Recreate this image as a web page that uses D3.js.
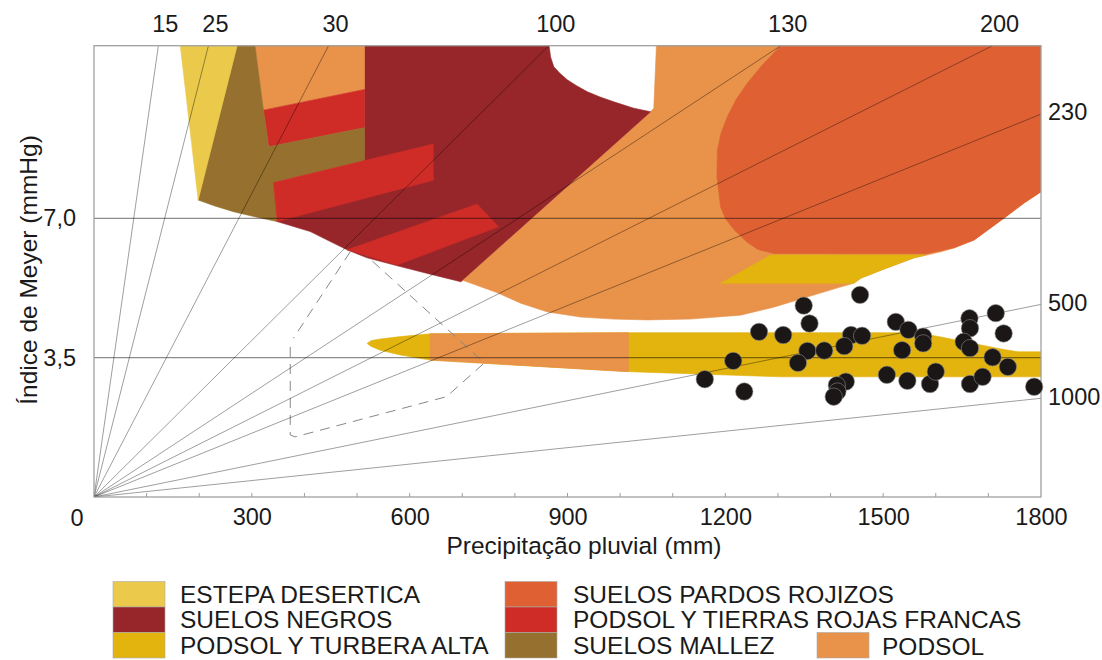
<!DOCTYPE html>
<html>
<head>
<meta charset="utf-8">
<script src="https://cdn.jsdelivr.net/npm/d3@7"></script>
<style>
  body { margin: 0; background: #fff; }
  text { font-family: "Liberation Sans", Arial, sans-serif; fill: #1a1a1a; }
</style>
</head>
<body>
<svg id="chart" width="1102" height="660"></svg>
<script>
// ---- data (precipitation mm, Meyer index mmHg) ----
const xTicks = [300, 600, 900, 1200, 1500, 1800];
const yTicks = [3.5, 7.0];
const yMax = 11.34;

// quotient lines: label and precipitation per index unit
const fanLabels = ['15', '25', '30', '100', '130', '200', '230', '500', '1000'];
const fanRatio = [10.79, 19.18, 39.32, 76.24, 115.1, 150.6, 187.1, 371.9, 725.8];

// soil zones, outlines in data units
const podsol = [[1069, 11.34], [1800, 11.34], [1800, 7.67], [1768, 7.39], [1730, 7.01], [1673, 6.46], [1635, 6.26],
  [1610, 6.16], [1559, 6.01], [1496, 5.70], [1458, 5.50], [1444, 5.37], [1420, 5.28], [1357, 5.03], [1292, 4.77],
  [1229, 4.57], [1134, 4.47], [1052, 4.45], [988, 4.47], [925, 4.52], [862, 4.65], [811, 4.87], [767, 5.13],
  [702, 5.44], [697, 5.41], [1058, 9.68], [1064, 9.77]];
const podsolTop = [[306, 11.34], [514, 11.34], [514, 10.24], [322, 9.72]];
const pardosRojizos = [[1305, 11.34], [1800, 11.34], [1800, 7.67], [1768, 7.39], [1730, 7.01], [1673, 6.46],
  [1635, 6.26], [1581, 6.11], [1292, 6.12], [1262, 6.22], [1240, 6.42], [1217, 6.71], [1200, 7.00], [1191, 7.29],
  [1184, 8.05], [1185, 8.72], [1192, 9.15], [1204, 9.56], [1221, 10.00], [1242, 10.40], [1270, 10.85]];
const turberaPatch = [[1191, 5.37], [1286, 6.08], [1581, 6.08], [1559, 6.01], [1496, 5.70], [1458, 5.50], [1444, 5.37]];
const suelosNegros = [[514, 11.34], [865, 11.34], [868, 11.05], [874, 10.81], [886, 10.64], [900, 10.48],
  [918, 10.33], [938, 10.18], [962, 10.05], [988, 9.93], [1026, 9.77], [1058, 9.68], [697, 5.41], [645, 5.58],
  [582, 5.79], [519, 6.01], [481, 6.21], [455, 6.38], [411, 6.67], [348, 6.92], [514, 8.45]];
const rojasStrip1 = [[322, 9.72], [514, 10.24], [514, 9.28], [332, 8.80]];
const rojasStrip2 = [[341, 7.90], [645, 8.87], [645, 7.96], [348, 6.92]];
const rojasStrip3 = [[481, 6.21], [728, 7.36], [769, 6.79], [576, 5.83]];
const suelosMallez = [[272, 11.34], [306, 11.34], [322, 9.72], [332, 8.80], [514, 9.28], [514, 8.45], [341, 7.90],
  [348, 6.92], [306, 7.04], [265, 7.17], [230, 7.31], [198, 7.46]];
const estepa = [[164, 11.34], [272, 11.34], [198, 7.46]];
const turberaBand = [[519, 3.86], [527, 3.93], [544, 3.97], [582, 4.03], [639, 4.10], [1016, 4.13], [1566, 4.13],
  [1610, 4.02], [1667, 3.87], [1724, 3.72], [1756, 3.65], [1800, 3.65], [1800, 3.02], [1305, 3.02], [1016, 3.15],
  [639, 3.44], [582, 3.57], [544, 3.69], [527, 3.78]];
const podsolBand = [[639, 4.10], [1016, 4.13], [1016, 3.15], [639, 3.44]];
const dashedA = [[487, 6.16], [379, 3.99]];
const dashedB = [[373, 3.77], [373, 1.56], [382, 1.51], [670, 2.52], [742, 3.37], [518, 6.06]];

// observed stations
const stationPrecip = [1161, 1215, 1236, 1264, 1310, 1349, 1360, 1356, 1338, 1388, 1456, 1439, 1460, 1426, 1429,
  1412, 1413, 1406, 1524, 1548, 1536, 1507, 1546, 1576, 1576, 1589, 1600, 1664, 1665, 1653, 1665, 1665, 1689,
  1714, 1729, 1708, 1737, 1787];
const stationIndex = [2.96, 3.42, 2.65, 4.15, 4.07, 4.81, 4.36, 3.67, 3.37, 3.68, 5.08, 4.07, 4.05, 3.79, 2.90,
  2.81, 2.65, 2.52, 4.40, 4.20, 3.69, 3.07, 2.92, 4.03, 3.86, 2.84, 3.15, 4.49, 4.24, 3.90, 3.74, 2.84, 3.02,
  4.62, 4.11, 3.51, 3.27, 2.77];

const legendNames = ['ESTEPA DESERTICA', 'SUELOS NEGROS', 'PODSOL Y TURBERA ALTA',
  'SUELOS PARDOS ROJIZOS', 'PODSOL Y TIERRAS ROJAS FRANCAS', 'SUELOS MALLEZ', 'PODSOL'];

// ---- styles ----
const colors = {
  estepa: '#EBC94B', negros: '#97262A', turbera: '#E3B30E', rojizos: '#DF6133',
  rojas: '#CF2C27', mallez: '#96702E', podsol: '#E8924A'
};
const legendColors = [colors.estepa, colors.negros, colors.turbera, colors.rojizos, colors.rojas, colors.mallez, colors.podsol];
const numSize = '23.5px', textSize = '24.5px';

const svg = d3.select('#chart');
const mLeft = 94, mRight = 1041, mTop = 45.7, mBottom = 497;

const x = d3.scaleLinear().domain([0, 1800]).range([mLeft, mRight]);
const y = d3.scaleLinear().domain([0, yMax]).range([mBottom, mTop]);

svg.append('clipPath').attr('id', 'plot')
  .append('rect').attr('x', mLeft).attr('y', mTop).attr('width', mRight - mLeft).attr('height', mBottom - mTop);

const plot = svg.append('g').attr('clip-path', 'url(#plot)');
const area = d3.line().x(d => x(d[0])).y(d => y(d[1])).curve(d3.curveLinearClosed);
const path = d3.line().x(d => x(d[0])).y(d => y(d[1]));

// fills, back to front
const zones = [
  [podsol, colors.podsol], [pardosRojizos, colors.rojizos], [turberaPatch, colors.turbera],
  [suelosNegros, colors.negros], [podsolTop, colors.podsol], [rojasStrip1, colors.rojas],
  [suelosMallez, colors.mallez], [rojasStrip2, colors.rojas], [rojasStrip3, colors.rojas],
  [estepa, colors.estepa], [turberaBand, colors.turbera], [podsolBand, colors.podsol]
];
plot.selectAll('path.zone')
  .data(zones)
  .enter()
  .append('path')
  .attr('class', 'zone')
  .attr('d', d => area(d[0]))
  .attr('fill', d => d[1])
  .attr('stroke', d => d[1])
  .attr('stroke-width', 0.6);

plot.selectAll('path.dash')
  .data([dashedA, dashedB])
  .enter()
  .append('path')
  .attr('d', d => path(d))
  .attr('fill', 'none')
  .attr('stroke', '#888')
  .attr('stroke-width', 1)
  .attr('stroke-dasharray', '10,7');

// reference lines at 3,5 and 7,0
plot.selectAll('line.grid')
  .data(yTicks)
  .enter()
  .append('line')
  .attr('x1', mLeft).attr('x2', mRight)
  .attr('y1', d => y(d)).attr('y2', d => y(d))
  .attr('stroke', '#000').attr('stroke-opacity', 0.45).attr('stroke-width', 1.2);

// quotient fan from the origin
const fanEnd = r => (r * yMax <= 1800) ? [r * yMax, yMax] : [1800, 1800 / r];
plot.selectAll('line.fan')
  .data(fanRatio)
  .enter()
  .append('line')
  .attr('x1', x(0)).attr('y1', y(0))
  .attr('x2', r => x(fanEnd(r)[0])).attr('y2', r => y(fanEnd(r)[1]))
  .attr('stroke', '#000').attr('stroke-opacity', 0.55).attr('stroke-width', 0.7);

svg.selectAll('text.fan')
  .data(fanRatio)
  .enter()
  .append('text')
  .attr('x', r => fanEnd(r)[1] >= yMax ? x(fanEnd(r)[0]) + 7 : mRight + 7)
  .attr('y', r => fanEnd(r)[1] >= yMax ? 24 : y(fanEnd(r)[1]) - 2)
  .attr('dy', '0.35em')
  .attr('text-anchor', r => fanEnd(r)[1] >= yMax ? 'middle' : 'start')
  .style('font-size', numSize)
  .text((r, i) => fanLabels[i]);

// frame
svg.append('rect')
  .attr('x', mLeft).attr('y', mTop).attr('width', mRight - mLeft).attr('height', mBottom - mTop)
  .attr('fill', 'none').attr('stroke', '#a0a0a0').attr('stroke-width', 1.3);

svg.selectAll('line.minor')
  .data(d3.range(100, 1800, 100))
  .enter()
  .append('line')
  .attr('x1', d => x(d)).attr('x2', d => x(d))
  .attr('y1', mBottom).attr('y2', mBottom - 4)
  .attr('stroke', '#a0a0a0').attr('stroke-width', 1);

// axes
const xAxis = svg.append('g')
  .attr('transform', `translate(0, ${mBottom})`)
  .call(d3.axisBottom(x).tickValues(xTicks).tickSize(0).tickPadding(11).tickFormat(d3.format('d')));
xAxis.select('.domain').remove();
xAxis.selectAll('text').style('font-size', numSize).style('fill', '#1a1a1a');

const yAxis = svg.append('g')
  .attr('transform', `translate(${mLeft}, 0)`)
  .call(d3.axisLeft(y).tickValues(yTicks).tickSize(0).tickPadding(18)
    .tickFormat(d => d3.format('.1f')(d).replace('.', ',')));
yAxis.select('.domain').remove();
yAxis.selectAll('text').style('font-size', numSize).style('fill', '#1a1a1a');

svg.append('text')
  .attr('x', mLeft - 17).attr('y', mBottom + 21).attr('dy', '0.35em')
  .attr('text-anchor', 'middle').style('font-size', numSize).text('0');

svg.append('text')
  .attr('x', 584).attr('y', 545).attr('dy', '0.35em')
  .attr('text-anchor', 'middle').style('font-size', textSize)
  .text('Precipitação pluvial (mm)');

svg.append('text')
  .attr('transform', 'translate(28, 270) rotate(-90)')
  .attr('dy', '0.35em')
  .attr('text-anchor', 'middle').style('font-size', textSize)
  .text('Índice de Meyer (mmHg)');

// stations
svg.selectAll('circle')
  .data(stationPrecip)
  .enter()
  .append('circle')
  .attr('cx', d => x(d))
  .attr('cy', (d, i) => y(stationIndex[i]))
  .attr('r', 8.7)
  .attr('fill', '#1a1716')
  .attr('stroke', '#8a8a8a')
  .attr('stroke-width', 0.6);

// legend
const legend = svg.append('g');
const swX = [113, 505, 817], txX = [180, 573, 882];
legendNames.forEach((name, i) => {
  const col = i < 6 ? Math.floor(i / 3) : 2;
  const row = i < 6 ? i % 3 : 2;
  const sy = 581.5 + row * 25.5;
  legend.append('rect')
    .attr('x', swX[col]).attr('y', sy).attr('width', 52).attr('height', 25.5)
    .attr('fill', legendColors[i]).attr('stroke', '#aaa').attr('stroke-width', 0.6);
  legend.append('text')
    .attr('x', txX[col]).attr('y', sy + 12.5 + (i === 6 ? 1.5 : 0)).attr('dy', '0.35em')
    .style('font-size', textSize)
    .text(name);
});
</script>
</body>
</html>
